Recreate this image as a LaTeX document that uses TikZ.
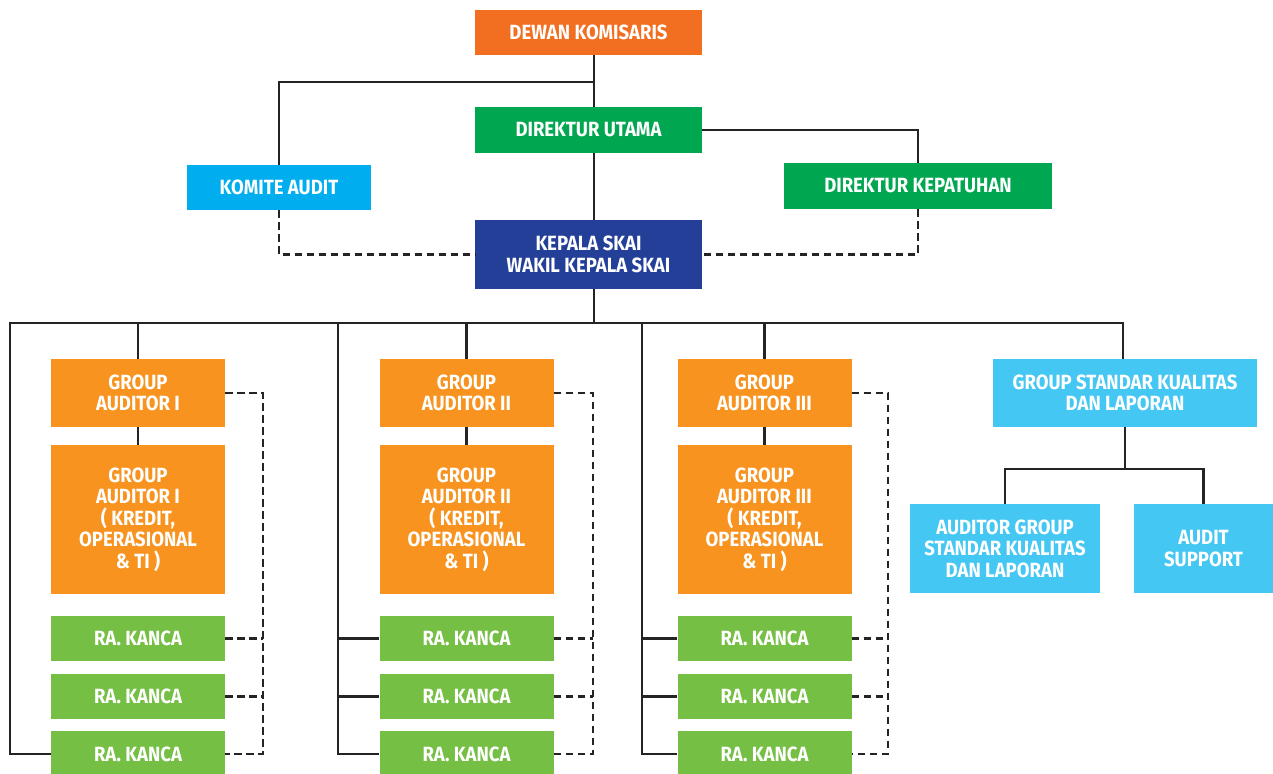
\documentclass[tikz,border=0pt]{standalone}
\usepackage{fontspec}
\newfontfamily\dinfont{Fira Sans}[FakeStretch=0.9]
\usetikzlibrary{calc}

\definecolor{cDewan}{HTML}{F26F21}
\definecolor{cDir}{HTML}{00A650}
\definecolor{cKomite}{HTML}{00AEEF}
\definecolor{cSkai}{HTML}{233F98}
\definecolor{cGroup}{HTML}{F7931E}
\definecolor{cKanca}{HTML}{74BF44}
\definecolor{cStd}{HTML}{45C7F4}
\definecolor{cLine}{HTML}{262324}

\begin{document}
\begin{tikzpicture}[x=1pt,y=-1pt,
  box/.style={draw=none, inner sep=0pt, text=white, align=center,
    font=\dinfont\bfseries\fontsize{20.6}{21.5}\selectfont},
  link/.style={line width=2.9pt, draw=cLine, line join=miter},
  dlink/.style={link, dash pattern=on 7.5pt off 4.5pt},
]
\clip (0,0) rectangle (1273,773);

% board and directors
\node[box, fill=cDewan, minimum width=227pt, minimum height=45pt] (dewan) at (588.5,32.5) {DEWAN KOMISARIS};
\node[box, fill=cDir, minimum width=227pt, minimum height=46pt] (utama) at (588.5,130) {DIREKTUR UTAMA};
\node[box, fill=cKomite, minimum width=184pt, minimum height=45pt] (komite) at (279,187.5) {KOMITE AUDIT};
\node[box, fill=cDir, minimum width=268pt, minimum height=46pt] (patuh) at (918,186) {DIREKTUR KEPATUHAN};
\node[box, fill=cSkai, minimum width=227pt, minimum height=69pt] (skai) at (588.5,254.5) {KEPALA SKAI\\WAKIL KEPALA SKAI};

% audit groups
\foreach \i/\cx/\rn in {1/138/I, 2/466.5/II, 3/764.5/III}{
  \node[box, fill=cGroup, minimum width=174pt, minimum height=68pt] (ga\i) at (\cx,393) {GROUP\\AUDITOR \rn};
  \node[box, fill=cGroup, minimum width=174pt, minimum height=149pt] (gb\i) at (\cx,519.5) {GROUP\\AUDITOR \rn\\( KREDIT,\\OPERASIONAL\\\& TI )};
  \node[box, fill=cKanca, minimum width=174pt, minimum height=45pt] (ra\i1) at (\cx,638.5) {RA. KANCA};
  \node[box, fill=cKanca, minimum width=174pt, minimum height=45pt] (ra\i2) at (\cx,696.5) {RA. KANCA};
  \node[box, fill=cKanca, minimum width=174pt, minimum height=46pt] (ra\i3) at (\cx,754) {RA. KANCA};
}

% quality standards group
\node[box, fill=cStd, minimum width=264pt, minimum height=68pt] (gs) at (1125,393) {GROUP STANDAR KUALITAS\\DAN LAPORAN};
\node[box, fill=cStd, minimum width=190pt, minimum height=89pt] (ags) at (1005,548.5) {AUDITOR GROUP\\STANDAR KUALITAS\\DAN LAPORAN};
\node[box, fill=cStd, minimum width=139pt, minimum height=89pt] (sup) at (1203.5,548.5) {AUDIT\\SUPPORT};

% junction points
\coordinate (spine) at (594,0);
\coordinate (j1) at (594,82);
\coordinate (bus) at (594,323);
\coordinate (busL) at (10,323);
\coordinate (busR) at (1123,323);
\coordinate (b2) at (338,323);
\coordinate (b3) at (642,323);
\coordinate (d1) at (263,0);
\coordinate (d2) at (593,0);
\coordinate (d3) at (888,0);
\coordinate (sj) at (1125,469);

% top chain
\draw[link] (dewan.south -| spine) -- (utama.north -| spine);
\draw[link] (komite.north) |- (j1);
\draw[link] (utama.south -| spine) -- (skai.north -| spine);
\draw[link] (utama.east) -| (patuh.north);
\draw[dlink] (komite.south) |- (skai.west);
\draw[dlink] (patuh.south) |- (skai.east);
\draw[link] (skai.south -| spine) -- (bus);

% main bus
\draw[link] (ra13.west) -| (busL) -- (busR) -- (busR |- gs.north);

% group columns
\foreach \i in {1,2,3}{
  \draw[link] (ga\i.north |- busL) -- (ga\i.north);
  \draw[link] (ga\i.south) -- (gb\i.north);
}
\foreach \i in {2,3}{
  \draw[link] (b\i) |- (ra\i3.west);
  \draw[link] (ra\i1.west -| b\i) -- (ra\i1.west);
  \draw[link] (ra\i2.west -| b\i) -- (ra\i2.west);
}
\foreach \i in {1,2,3}{
  \draw[dlink] (ga\i.east) -| (d\i |- ra\i3.east) -- (ra\i3.east);
  \draw[dlink] (ra\i1.east) -- (ra\i1.east -| d\i);
  \draw[dlink] (ra\i2.east) -- (ra\i2.east -| d\i);
}

% quality standards branch
\draw[link] (gs.south) -- (sj);
\draw[link] (ags.north) |- (sj) -| (sup.north);
\end{tikzpicture}
\end{document}
